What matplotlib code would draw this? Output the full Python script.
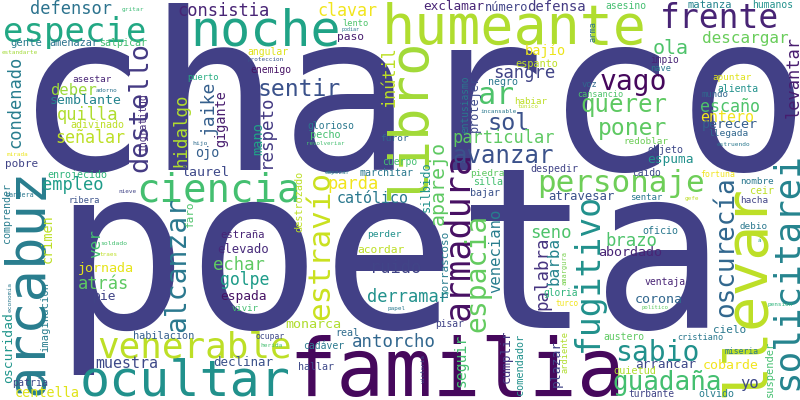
import matplotlib
matplotlib.use("Agg")
import matplotlib.pyplot as plt

# word weights (rendered as pixel font size)
words = [
    "charco", "poeta", "familia", "humeante", "llevar", "noche", "ocultar", "arcabuz",
    "libro", "ciencia", "venerable", "solicitarei", "armadura", "especie", "frente", "fugitivo",
    "personaje", "estravío", "ar", "vago", "espacia", "alcanzar", "sabio", "destello",
    "guadaña", "oscurecía", "querer", "avanzar", "sol", "sentir", "poner", "aparejo",
    "ola", "jaike", "hidalgo", "respeto", "palabra", "antorcho", "seno", "sangre",
    "echar", "brazo", "defensor", "condenado", "quilla", "empleo", "consistia", "parda",
    "ruido", "derramar", "levantar", "atrás", "particular", "inútil", "señalar", "clavar",
    "escaño", "golpe", "ver", "barba", "descargar", "veneciano", "deber", "yo",
    "católico", "muestra", "entero", "seguir", "defensa", "bajío", "mano", "gigante",
    "crimen", "ojo", "centella", "oscuridad", "jornada", "monarca", "abordado", "corona",
    "perecer", "laurel", "semblante", "cobarde", "pie", "plazar", "espada", "espuma",
    "exclamar", "arrancar", "cumplir", "declinar", "atravesar", "elevado", "número", "silbido",
    "protejer", "paso", "acordar", "pobre", "faro", "borrascoso", "cielo", "estraña",
    "gente", "matanza", "imaginacion", "suspender", "amenazar", "pecho", "destrozado", "quietud",
    "comendador", "espanto", "habilacion", "salpicar", "adivinado", "enrojecido", "comprender", "negro",
    "silla", "bajar", "despedir", "marchitar", "objeto", "oficio", "real", "hallar",
    "patria", "olvido", "ceir", "cuerpo", "glorioso", "angular", "enemigo", "asesino",
    "humanos", "alienta", "austero", "ingratitud", "cadáver", "ventaja", "entusiasmo", "gloria",
    "furor", "impio", "caido", "pisar", "turbante", "perder", "piedra", "llegada",
    "redoblar", "nombre", "asestar", "apuntar", "debio", "hacha", "habiar", "mundo",
    "vivir", "sentar", "voz", "nave", "ardiente", "puerto", "lento", "ribera",
    "arma", "cansancio", "cristiano", "fortuna", "ocupar", "miseria", "turco", "amargura",
    "bandera", "hijo", "soldado", "economía", "gritar", "herida", "estruendo", "estandarte",
    "adorno", "mirada", "nieve", "proteccion", "empezar", "traes", "papel", "incansable",
    "pension", "gefe", "victoria", "á", "revolveriar", "túnico", "político", "podiar",
]
weights = [
    220, 224, 80, 55, 59, 50, 50, 54,
    54, 39, 36, 36, 35, 34, 33, 33,
    31, 31, 30, 28, 28, 28, 28, 27,
    26, 26, 24, 24, 23.5, 23, 23, 20,
    20, 18, 17.5, 17.5, 17.5, 17.4, 17.3, 17.3,
    17.2, 17.2, 17, 17, 17, 17, 17, 17,
    17, 17, 17, 17, 17, 16.8, 16.6, 16.6,
    16.6, 16.5, 16, 16, 16, 15.6, 15.5, 15.5,
    15, 15, 15, 14.7, 14, 13.6, 13.6, 13.5,
    13.5, 13.5, 13.5, 13, 13.4, 13.4, 13.4, 13.4,
    13.4, 13.2, 13.2, 13.2, 13, 13, 12.9, 12.9,
    12.8, 12.8, 12.8, 12.5, 12.3, 12.2, 12, 12,
    11.7, 11.3, 11.2, 11, 11, 11, 11, 10.5,
    10.5, 10.5, 10.5, 10.4, 10.3, 10.3, 10.3, 10.3,
    10.3, 10.2, 10.2, 10, 10, 10, 10, 10,
    10, 10, 10, 10, 10, 10, 10, 10,
    10, 10, 10, 9.8, 9.8, 9.8, 9.8, 9.8,
    9.8, 9.8, 9.8, 9.8, 9.8, 9.8, 9.7, 9.7,
    9.5, 9.6, 9.6, 9.6, 9.6, 9.5, 9.5, 9.5,
    9.4, 9.4, 9.3, 9.3, 9.3, 9.3, 9.2, 9,
    9, 9, 8.8, 8.7, 8.7, 8.6, 8.6, 8.6,
    8.6, 8.5, 8.5, 8.3, 8, 8, 7.6, 7,
    6.8, 6.5, 6.5, 6.3, 6.2, 6.2, 6.2, 6,
    6, 6, 6, 6, 6, 6, 6, 6,
    6, 6, 6, 6, 5.8, 5.8, 5.6, 5,
]

# placement: word -> (x, y, rotation, viridis tone)
# horizontal: x = left of ink, y = baseline; vertical: x = baseline, y = bottom of ink
H, V = 0, 90
layout = {
    "charco": (15, 170, H, .19), "poeta": (52, 328, H, .19), "familia": (288, 396, H, .02),
    "humeante": (382, 44, H, .88), "llevar": (763, 397, V, .90), "noche": (190, 45, H, .58),
    "ocultar": (80, 395, H, .50), "arcabuz": (42, 395, V, .42), "libro": (425, 200, V, .86),
    "ciencia": (136, 201, H, .70), "venerable": (97, 358, H, .90), "solicitarei": (797, 390, V, .45),
    "armadura": (468, 320, V, .04), "especie": (3, 42, H, .60), "frente": (660, 28, H, .10),
    "fugitivo": (598, 352, V, .50), "personaje": (537, 192, H, .78), "estravío": (329, 320, V, .92),
    "ar": (478, 104, H, .72), "vago": (600, 90, H, .02), "espacia": (485, 332, V, .76),
    "alcanzar": (185, 332, V, .40), "sabio": (615, 361, H, .50), "destello": (147, 172, V, .17),
    "guadaña": (613, 390, H, .70), "oscurecía": (733, 317, V, .33), "querer": (580, 112, H, .75),
    "avanzar": (453, 163, H, .25), "sol": (488, 130, H, .25), "sentir": (258, 96, H, .25),
    "poner": (598, 135, H, .75), "aparejo": (444, 225, V, .75), "ola": (653, 54, H, .72),
    "jaike": (213, 135, V, .30), "hidalgo": (186, 167, V, .88), "respeto": (271, 168, V, .17),
    "palabra": (547, 310, V, .15), "antorcho": (352, 347, H, .33), "seno": (530, 238, H, .72),
    "sangre": (493, 78, H, .20), "echar": (213, 270, H, .75), "brazo": (605, 246, H, .72),
    "defensor": (30, 14, H, .38), "condenado": (20, 148, V, .42), "quilla": (57, 120, H, .88),
    "empleo": (42, 190, H, .55), "consistia": (177, 16, H, .10), "parda": (327, 189, H, .98),
    "ruido": (370, 273, H, .20), "derramar": (367, 302, H, .50), "levantar": (799, 118, V, .08),
    "atrás": (78, 289, H, .75), "particular": (452, 143, H, .75), "inútil": (395, 107, V, .90),
    "señalar": (55, 143, H, .90), "clavar": (317, 16, H, .98), "escaño": (700, 112, H, .72),
    "golpe": (220, 285, H, .55), "ver": (100, 258, V, .70), "barba": (558, 285, V, .45),
    "descargar": (702, 43, H, .77), "veneciano": (500, 293, V, .42), "deber": (50, 95, H, .85),
    "yo": (740, 388, H, .22), "católico": (337, 203, H, .40), "muestra": (95, 368, H, .22),
    "entero": (700, 122, H, .98), "seguir": (466, 387, V, .70), "defensa": (527, 11, H, .17),
    "bajío": (525, 55, H, .97), "mano": (262, 155, V, .58), "gigante": (225, 147, V, .08),
    "crimen": (52, 263, V, .90), "ojo": (195, 157, H, .30), "centella": (15, 397, H, .95),
    "oscuridad": (12, 383, V, .52), "jornada": (78, 272, H, .96), "monarca": (285, 328, H, .88),
    "abordado": (598, 256, H, .10), "corona": (635, 303, H, .33), "perecer": (702, 128, H, .30),
    "laurel": (182, 176, H, .22), "semblante": (50, 104.5, H, .45), "cobarde": (703, 369, H, .98),
    "pie": (93, 300, H, .20), "plazar": (560, 387, V, .20), "espada": (220, 300, H, .05),
    "espuma": (647, 163, H, .50), "exclamar": (423, 10, H, .10), "arrancar": (635, 368, H, .22),
    "cumplir": (510, 383, V, .17), "declinar": (213, 366, H, .25), "atravesar": (548, 200, H, .25),
    "elevado": (217, 253, H, .12), "número": (485, 11, H, .20), "silbido": (430, 212, V, .50),
    "protejer": (478, 132, V, .22), "paso": (337, 40, H, .08), "acordar": (357, 253, H, .90),
    "pobre": (5, 167, H, .20), "faro": (193, 227, V, .72), "borrascoso": (448, 297, V, .42),
    "cielo": (713, 333, H, .40), "estraña": (220, 238, H, .10), "gente": (10, 46, H, .42),
    "matanza": (688, 8, H, .45), "imaginacion": (48, 352, V, .42), "suspender": (773, 397, V, .70),
    "amenazar": (49, 46, H, .38), "pecho": (310, 138, H, .70), "destrozado": (302, 232, V, .90),
    "quietud": (613, 374, H, .88), "comendador": (523, 395, V, .50), "espanto": (515, 67, H, .90),
    "habilacion": (133, 339, H, .30), "salpicar": (99, 45.5, H, .70), "adivinado": (70, 128, H, .90),
    "enrojecido": (47, 178, H, .65), "comprender": (10, 243, V, .42), "negro": (488, 85, H, .40),
    "silla": (473, 185, H, .70), "bajar": (470, 196, H, .25), "despedir": (530, 172, H, .20),
    "marchitar": (360, 176, H, .40), "objeto": (647, 153, H, .22), "oficio": (642, 234, H, .40),
    "real": (335, 336, H, .35), "hallar": (298, 370, H, .22), "patria": (12, 386, H, .22),
    "olvido": (698, 397, H, .42), "ceir": (750, 194, H, .90), "cuerpo": (382, 165, H, .70),
    "glorioso": (307, 129, H, .40), "angular": (247, 55, H, .95), "enemigo": (250, 73, H, .05),
    "asesino": (605, 9, H, .70), "humanos": (752, 8, H, .50), "alienta": (717, 91.5, H, .50),
    "austero": (603, 340, H, .75), "ingratitud": (146, 152, V, .13), "cadáver": (303, 349, H, .40),
    "ventaja": (645, 285, H, .10), "entusiasmo": (468, 133, V, .40), "gloria": (543, 296, H, .65),
    "furor": (380, 141, H, .33), "impio": (650, 63, H, .10), "caido": (632, 176, H, .22),
    "pisar": (435, 327, H, .20), "turbante": (628, 397, H, .20), "perder": (367, 237, H, .50),
    "piedra": (470, 176, H, .75), "llegada": (708, 136, H, .33), "redoblar": (623, 144, H, .78),
    "nombre": (740, 184, H, .40), "asestar": (72, 81.5, H, .10), "apuntar": (712, 80, H, .95),
    "debio": (740, 229, H, .40), "hacha": (740, 203, H, .20), "habiar": (514, 104, H, .90),
    "mundo": (702, 97, H, .33), "vivir": (232, 311, H, .70), "sentar": (630, 200, H, .40),
    "voz": (582, 87, H, .33), "nave": (650, 71, H, .40), "ardiente": (567, 373, V, .88),
    "puerto": (187, 80, H, .62), "lento": (342, 26, H, .72), "ribera": (68, 203, H, .25),
    "arma": (595, 42, V, .38), "cansancio": (577, 97, H, .72), "cristiano": (677, 340, H, .40),
    "fortuna": (700, 177, H, .98), "ocupar": (255, 339, H, .22), "miseria": (725, 354, H, .40),
    "turco": (555, 306, H, .98), "amargura": (566, 285, V, .80), "bandera": (5, 197, H, .40),
    "hijo": (192, 145, H, .35), "soldado": (100, 245, H, .70), "economía": (12, 312, V, .40),
    "gritar": (122, 11, H, .68), "herida": (260, 347, H, .70), "estruendo": (717, 146, H, .40),
    "estandarte": (2, 54, H, .86), "adorno": (96, 92.5, H, .38), "mirada": (7, 156.5, H, .97),
    "nieve": (118, 193, H, .20), "proteccion": (247, 61, H, .25), "empezar": (325, 174, H, .40),
    "traes": (100, 256, H, .90), "papel": (387, 310, H, .40), "incansable": (480, 113, H, .40),
    "pension": (767, 306, H, .65), "gefe": (685, 200, H, .90), "victoria": (425, 383, V, .22),
    "á": (758, 242, H, .55), "revolveriar": (306, 145, H, .70), "túnico": (518, 108, H, .90),
    "político": (642, 309, H, .75), "podiar": (342, 31, H, .40),
}

fig = plt.figure(figsize=(8, 4), dpi=100)
ax = fig.add_axes([0, 0, 1, 1])
ax.set_xlim(0, 800)
ax.set_ylim(400, 0)
ax.axis("off")
cmap = plt.get_cmap("viridis")

for word, size in zip(words, weights):
    x, y, rot, tone = layout[word]
    ax.text(x, y, word, fontsize=size * 0.72, family="DejaVu Sans Mono",
            color=cmap(tone), rotation=rot, rotation_mode="anchor",
            ha="left", va="baseline")

fig.savefig("out.png", dpi=100, facecolor="white")
